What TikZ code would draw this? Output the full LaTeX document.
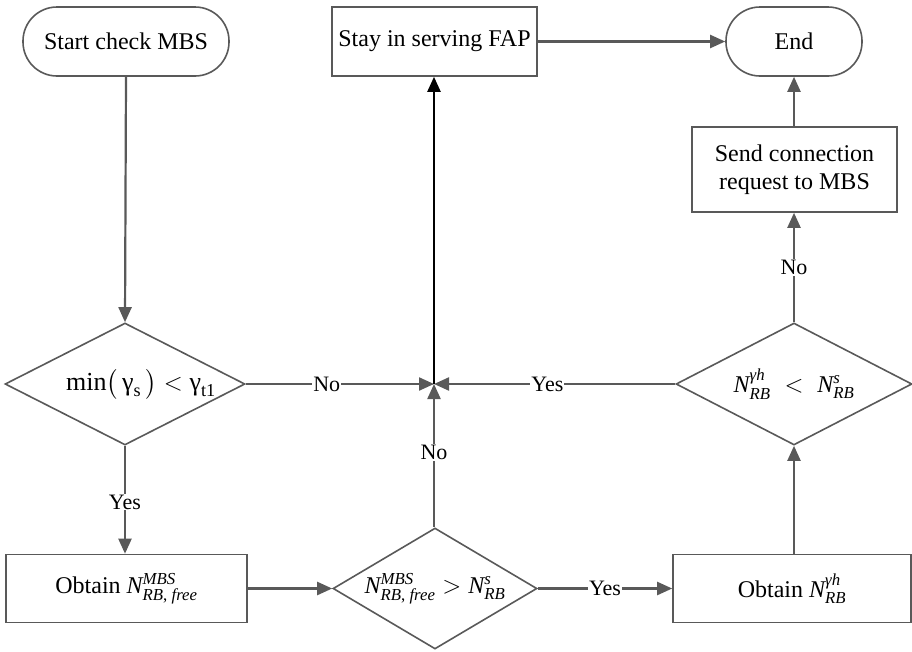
\documentclass[tikz,border=0pt]{standalone}
\usepackage{amsmath}
\usepackage{fontspec}
\setmainfont{Liberation Serif}
\usetikzlibrary{shapes.geometric,arrows.meta}
\definecolor{ln}{HTML}{595959}
\tikzset{
  txt/.style={font=\fontsize{24}{28}\selectfont},
  boxn/.style={txt,draw=ln,line width=1.6pt,rectangle,inner sep=0pt,align=center},
  term/.style={boxn,rounded corners=34pt},
  dia/.style={draw=ln,line width=1.6pt,diamond,inner sep=0pt},
  dtxt/.style={txt,inner sep=0pt},
  conn/.style={draw=ln,line width=2.2pt,-{Triangle[length=15pt,width=13pt]}},
  lab/.style={fill=white,inner sep=1pt,font=\fontsize{22}{25}\selectfont},
}
\newcommand{\ti}[1]{\textit{#1}}
\newcommand{\tu}[1]{\textup{#1}}
\begin{document}
\begin{tikzpicture}[x=1pt,y=-1pt]
\useasboundingbox (0,0) rectangle (912,651);
\node[term,minimum width=206pt,minimum height=69pt] (start) at (126,41.5) {Start check MBS};
\node[boxn,minimum width=205pt,minimum height=69pt] (stay) at (434.5,41.5) {Stay in serving FAP};
\node[term,minimum width=136pt,minimum height=69pt] (end) at (794,41.5) {End};
\node[boxn,minimum width=205pt,minimum height=85pt] (send) at (794.5,169.5) {Send connection\\request to MBS};
\node[dia,minimum width=240pt,minimum height=122pt] (d1) at (125,384) {};
\node[dtxt,font=\fontsize{26}{30}\selectfont] (t1) at ([xshift=16pt]d1.center) {$\tu{min}\bigl(\,\tu{γ}_{\tu{s}}\,\bigr) < \tu{γ}_{\tu{t1}}$};
\node[dia,minimum width=236pt,minimum height=122pt] (d3) at (794,384) {};
\node[dtxt] (t3) at (d3.center) {$\ti{N}^{\ti{γh}}_{\ti{RB}}\;<\;\ti{N}^{\ti{s}}_{\ti{RB}}$};
\node[dia,minimum width=204pt,minimum height=121pt] (d2) at (435,588.5) {};
\node[dtxt] (t2) at (d2.center) {$\ti{N}^{\ti{MBS}}_{\ti{RB}\text{, }\ti{free}}>\ti{N}^{\ti{s}}_{\ti{RB}}$};
\node[boxn,minimum width=241pt,minimum height=68pt] (o1) at (126.5,588.5) {Obtain $\ti{N}^{\ti{MBS}}_{\ti{RB}\text{, }\ti{free}}$};
\node[boxn,minimum width=238pt,minimum height=68pt] (o2) at (792,588.5) {Obtain $\ti{N}^{\ti{γh}}_{\ti{RB}}$};
\coordinate (j) at (434,384);
% connectors
\draw[conn] (start.south) -- (d1.north);
\draw[conn] (d1.east) -- node[lab,pos=0.43]{No} (j);
\draw[conn] (d3.west) -- node[lab,pos=0.53]{Yes} (j);
\draw[conn] (d2.north -| j) -- node[lab,pos=0.52]{No} (j);
\draw[line width=2.2pt,black,-{Triangle[length=15pt,width=13pt]}] (j) -- (j |- stay.south);
\draw[conn] (stay.east) -- (end.west);
\draw[conn] (send.north -| end.south) -- (end.south);
\draw[conn] (d3.north) -- node[lab,pos=0.5]{No} (d3.north |- send.south);
\draw[conn] (d3.south |- o2.north) -- (d3.south);
\draw[conn] (d1.south) -- node[lab,pos=0.52]{Yes} (d1.south |- o1.north);
\draw[conn] (o1.east) -- (d2.west);
\draw[conn] (d2.east) -- node[lab,pos=0.5]{Yes} (o2.west);
\end{tikzpicture}
\end{document}
